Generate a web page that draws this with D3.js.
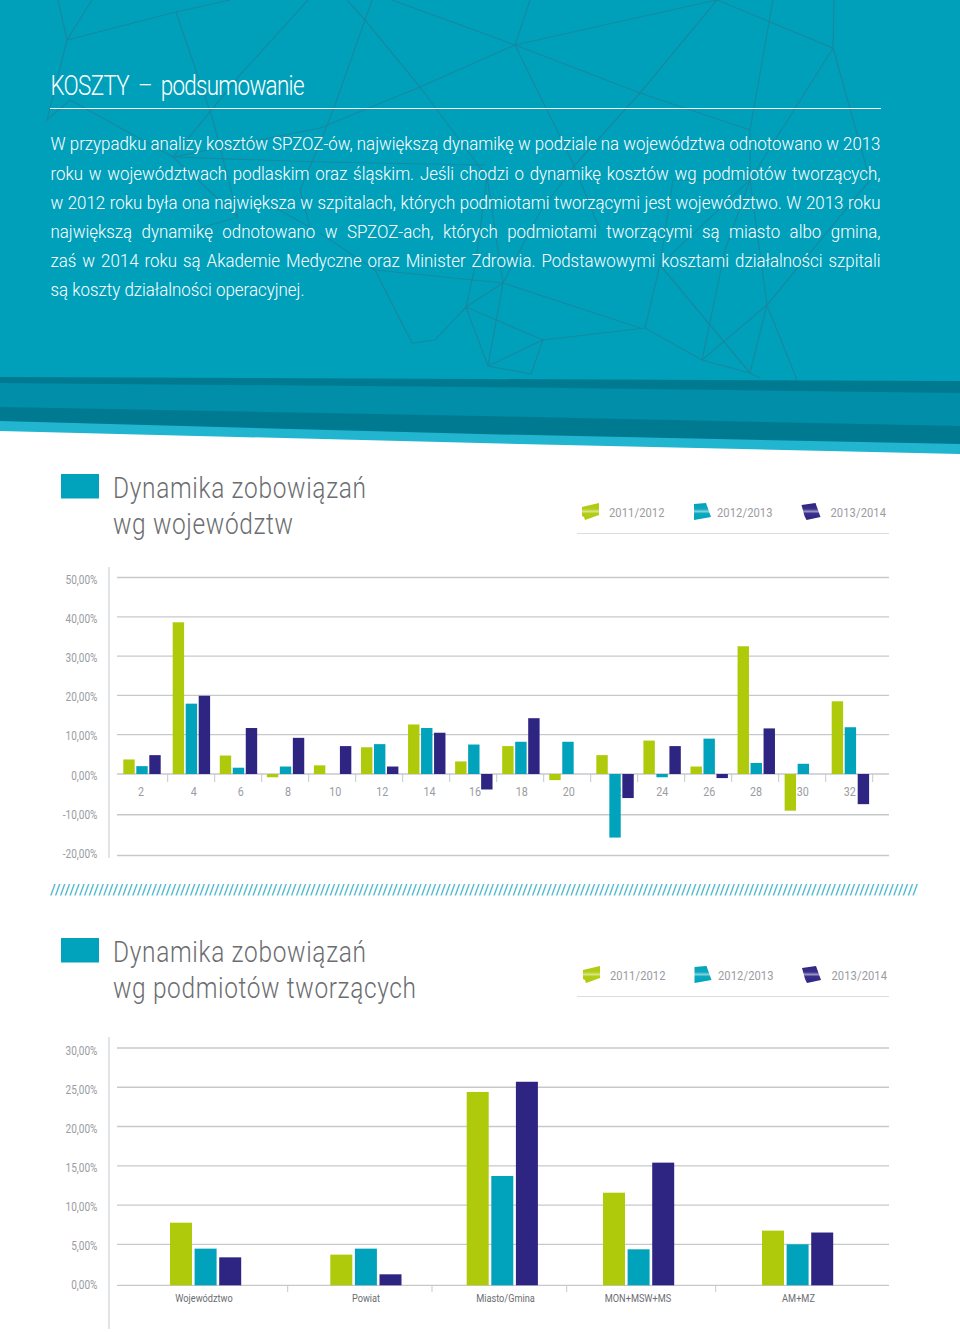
<!DOCTYPE html>
<html lang="pl"><head><meta charset="utf-8">
<script src="https://cdn.jsdelivr.net/npm/d3@7"></script>
<style>html,body{margin:0;padding:0;background:#fff}svg{display:block}text{font-family:Roboto,"Noto Sans",sans-serif}</style>
</head><body><svg id="c" width="960" height="1332"></svg>
<script>
const seriesNames = ["2011/2012","2012/2013","2013/2014"];
const seriesColors = ["#afca0b","#00a3bb","#2e2583"];
const regionLabels = [2,4,6,8,10,12,14,16,18,20,22,24,26,28,30,32];
const region1112 = [3.7,38.6,4.7,-0.8,2.2,6.8,12.6,3.2,7.1,-1.5,4.8,8.5,1.9,32.5,-9.0,18.5];
const region1213 = [2.0,17.9,1.6,1.9,null,7.6,11.7,7.5,8.2,8.2,-15.6,-0.8,9.0,2.8,2.6,11.9];
const region1314 = [4.8,19.9,11.7,9.2,7.1,1.9,10.5,-3.8,14.2,null,-5.9,7.1,-1.0,11.6,null,-7.4];
const regionTicks = [50,40,30,20,10,0,-10,-20];
const ownerLabels = ["Województwo","Powiat","Miasto/Gmina","MON+MSW+MS","AM+MZ"];
const owner1112 = [7.75,3.74,24.4,11.57,6.74];
const owner1213 = [4.47,4.47,13.7,4.39,5.0];
const owner1314 = [3.41,1.34,25.7,15.4,6.5];
const ownerTicks = [30,25,20,15,10,5,0];
const bodyLines = [
 "W przypadku analizy kosztów SPZOZ-ów, największą dynamikę w podziale na województwa odnotowano w 2013",
 "roku w województwach podlaskim oraz śląskim. Jeśli chodzi o dynamikę kosztów wg podmiotów tworzących,",
 "w 2012 roku była ona największa w szpitalach, których podmiotami tworzącymi jest województwo. W 2013 roku",
 "największą dynamikę odnotowano w SPZOZ-ach, których podmiotami tworzącymi są miasto albo gmina,",
 "zaś w 2014 roku są Akademie Medyczne oraz Minister Zdrowia. Podstawowymi kosztami działalności szpitali",
 "są koszty działalności operacyjnej."];

const svg = d3.select("#c");
const GRID="#c6c9cc", LABEL="#9a9c9f", TITLE="#6b6d70";

// ---------- header ----------
const poly=(pts,fill)=>svg.append("polygon").attr("points",pts.map(p=>p.join(",")).join(" ")).attr("fill",fill);
poly([[0,0],[960,0],[960,454],[480,443],[0,431]],"#22b5cf");
poly([[0,0],[960,0],[960,444],[480,434],[0,421]],"#007a90");
poly([[0,0],[960,0],[960,426],[480,416],[0,407]],"#008ea8");
poly([[0,0],[960,0],[960,393],[480,387],[0,383]],"#007a90");
poly([[0,0],[960,0],[960,381],[480,379],[0,377]],"#00a0bb");
const net=[
 [[92,0],[67,40],[47,120],[70,100],[173,157],[238,217],[200,228]],[[58,0],[67,40],[176,12],[230,0]],
 [[176,12],[213,120],[238,217]],[[308,0],[240,75],[173,157],[320,128],[420,87],[515,45]],
 [[173,157],[320,162],[485,165]],[[347,0],[365,20],[372,0]],[[365,20],[335,105],[320,143],[300,190],[310,227],[270,205]],
 [[365,20],[420,87],[487,177],[503,283]],[[392,0],[515,45],[530,0]],[[515,45],[640,17],[717,0]],
 [[515,45],[640,93],[750,130]],[[515,45],[547,110],[573,163],[600,230]],[[640,93],[575,165],[540,212],[503,283]],
 [[320,233],[375,270],[412,343],[435,340],[466,307],[503,283]],[[375,270],[503,283],[640,328]],
 [[466,307],[488,366],[531,374],[543,340],[488,366],[503,283]],[[466,307],[543,340],[645,328]],[[487,177],[475,267],[466,307]],
 [[717,0],[640,93]],[[717,0],[833,48],[834,0]],[[773,0],[750,130],[750,180],[767,305]],[[833,48],[750,180]],
 [[833,48],[870,180],[767,305]],[[750,180],[673,180],[660,265],[645,328]],[[750,180],[660,265],[750,373]],
 [[767,305],[702,360],[750,373],[767,305],[797,380]],[[702,360],[725,250],[750,180]],[[702,360],[645,328]],[[750,373],[760,378]]
];
svg.append("g").attr("fill","none").attr("stroke","#158aa2").attr("stroke-width",1.2)
 .selectAll("path").data(net).join("path").attr("d",d3.line());

function squeezed(x,y,str,width,size,k,weight,fill){
  return svg.append("text").attr("transform",`translate(${x},${y}) scale(${k},1)`).attr("fill",fill)
   .attr("font-size",size).attr("font-weight",weight)
   .attr("textLength",width/k).attr("lengthAdjust","spacing").text(str);
}
squeezed(50.5,95,"KOSZTY – podsumowanie",254,27,.83,300,"#fff").attr("word-spacing",5);
svg.append("line").attr("x1",50).attr("x2",881).attr("y1",108.5).attr("y2",108.5).attr("stroke","#fff").attr("stroke-width",1);

const baseY=[150,179.5,208.5,238,267,296];
const probe=svg.append("text").attr("font-size",18.6).attr("font-weight",300).attr("opacity",0).text(bodyLines[5]);
const k=254/probe.node().getComputedTextLength(); probe.remove();
bodyLines.forEach((l,i)=>{
  const t=svg.append("text").attr("transform",`translate(50.5,${baseY[i]}) scale(${k},1)`)
    .attr("fill","#fff").attr("font-size",18.6).attr("font-weight",300).text(l);
  const target=(i===5?254:830)/k, w=t.node().getComputedTextLength(), n=l.split(" ").length-1;
  t.attr("word-spacing",(target-w)/n);
});

// ---------- helpers ----------
const fmtBase=d3.formatLocale({decimal:",",thousands:" ",grouping:[3],currency:["",""],minus:"-"}).format(".2f");
const pct=v=>fmtBase(v)+"%";
const defs=svg.append("defs");
seriesColors.forEach((c,i)=>{
  const g=defs.append("linearGradient").attr("id","lg"+i).attr("x1",0).attr("x2",0).attr("y1",0).attr("y2",1);
  [[0,c,1],[.35,c,.95],[.5,c,.5],[.62,c,.95],[1,c,1]].forEach(s=>g.append("stop").attr("offset",s[0]).attr("stop-color",s[1]).attr("stop-opacity",s[2]));
});
const swatches=[[[0,4],[17,0],[17,12],[3,17],[2,14],[0,13]],[[2,1],[14,0],[19,14],[2,17]],[[0,2],[14,0],[19,14],[5,17],[3,13]]];
function header(top,lines,legendX,legendTextX,dy){
  svg.append("rect").attr("x",61).attr("y",top).attr("width",38).attr("height",24.5).attr("fill","#00a3bb");
  lines.forEach((l,i)=>squeezed(113,top+24+i*36,l.t,l.w,29.5,.83,300,TITLE));
  seriesNames.forEach((n,i)=>{
    svg.append("polygon").attr("points",swatches[i].map(p=>[p[0]+legendX[i],p[1]+top+29+dy].join(",")).join(" ")).attr("fill",`url(#lg${i})`);
    squeezed(legendTextX[i],top+43+dy,n,55.5,13,.86,400,LABEL);
  });
  svg.append("line").attr("x1",577).attr("x2",889).attr("y1",top+59.5+dy).attr("y2",top+59.5+dy).attr("stroke","#dcdde0");
}
function frame(y,yLabel,ticks,axisTop,axisBottom){
  svg.append("line").attr("x1",109).attr("x2",109).attr("y1",axisTop).attr("y2",axisBottom).attr("stroke",GRID).attr("stroke-width",1);
  svg.append("g").selectAll("line").data(ticks).join("line")
    .attr("x1",117).attr("x2",889).attr("y1",d=>y(d)).attr("y2",d=>y(d)).attr("stroke",GRID).attr("stroke-width",1.3);
  const ax=svg.append("g").attr("transform","translate(97.5,0)")
    .call(d3.axisLeft(yLabel).tickValues(ticks).tickSize(0).tickPadding(0).tickFormat(pct));
  ax.select(".domain").remove();
  ax.selectAll("text").attr("fill",LABEL).attr("font-size",12).attr("font-family","Roboto,sans-serif").attr("transform","scale(.84,1)");
}
function bars(cats,series,xGroup,xInner,y){
  series.forEach((vals,s)=>{
    svg.append("g").selectAll("rect").data(cats.map((c,i)=>({c,v:vals[i]})).filter(d=>d.v!==null)).join("rect")
      .attr("x",d=>xGroup(d.c)+xInner(seriesNames[s])).attr("width",xInner.bandwidth())
      .attr("y",d=>Math.min(y(d.v),y(0))).attr("height",d=>Math.abs(y(d.v)-y(0))).attr("fill",seriesColors[s]);
  });
}

// ---------- chart 1 ----------
header(474,[{t:"Dynamika zobowiązań",w:253},{t:"wg województw",w:180}],[582,692,801.5],[609,717,830.5],0);
const y1=d3.scaleLinear().domain([50,0,-20]).range([577.5,774,855.5]);
const y1Label=d3.scaleLinear().domain([50,-20]).range([579.5,853.5]);
frame(y1,y1Label,regionTicks,567,858);
const x1=d3.scaleLinear().domain([2,4,32]).range([123.3,172.7,831.7]);
const xLabel1=d3.scaleLinear().domain([2,4,14,16,32]).range([141,193.7,429.5,475,849.7]);
const inner1=d3.scaleBand().domain(seriesNames).range([0,37.4]).paddingInner(.123);
const tick1=d3.scaleBand().domain(regionLabels).range([120.7,872.7]);
svg.append("g").selectAll("line").data(regionLabels).join("line")
  .attr("x1",d=>tick1(d)+tick1.bandwidth()).attr("x2",d=>tick1(d)+tick1.bandwidth())
  .attr("y1",774).attr("y2",782).attr("stroke",GRID).attr("stroke-width",1);
svg.append("g").selectAll("text").data(regionLabels).join("text")
  .attr("transform",d=>`translate(${xLabel1(d)},795.5) scale(.86,1)`).attr("text-anchor","middle").attr("fill",LABEL).attr("font-size",12.5).text(d=>d);
bars(regionLabels,[region1112,region1213,region1314],x1,inner1,y1);

// ---------- divider ----------
svg.append("text").attr("x",50).attr("y",894.5).attr("fill","#1aa9bf").attr("font-size",14)
  .attr("textLength",868).attr("lengthAdjust","spacing").text("/".repeat(180));

// ---------- chart 2 ----------
header(938,[{t:"Dynamika zobowiązań",w:253},{t:"wg podmiotów tworzących",w:303}],[583,692.5,802],[610,718,831.5],-1);
const y2=d3.scaleLinear().domain([30,5,0]).range([1048,1244.3,1285.3]);
const y2Label=d3.scaleLinear().domain([30,0]).range([1050.5,1284.5]);
frame(y2,y2Label,ownerTicks,1037,1329);
const x2=d3.scaleOrdinal().domain(ownerLabels).range([170,330.3,466.7,603,762]);
const xLabel2=d3.scaleOrdinal().domain(ownerLabels).range([204,366,505.5,638,798.5]);
const inner2=d3.scaleBand().domain(seriesNames).range([0,71.2]).paddingInner(.106);
const dividers=[287.7,432,566.7,715.7];
svg.append("g").selectAll("line").data(dividers).join("line")
  .attr("x1",d=>d).attr("x2",d=>d).attr("y1",1285).attr("y2",1292).attr("stroke",GRID);
svg.append("g").selectAll("text").data(ownerLabels).join("text")
  .attr("transform",d=>`translate(${xLabel2(d)},1302) scale(.8,1)`)
  .attr("text-anchor","middle").attr("fill",TITLE).attr("font-size",11.5).text(d=>d);
bars(ownerLabels,[owner1112,owner1213,owner1314],x2,inner2,y2);
</script></body></html>
